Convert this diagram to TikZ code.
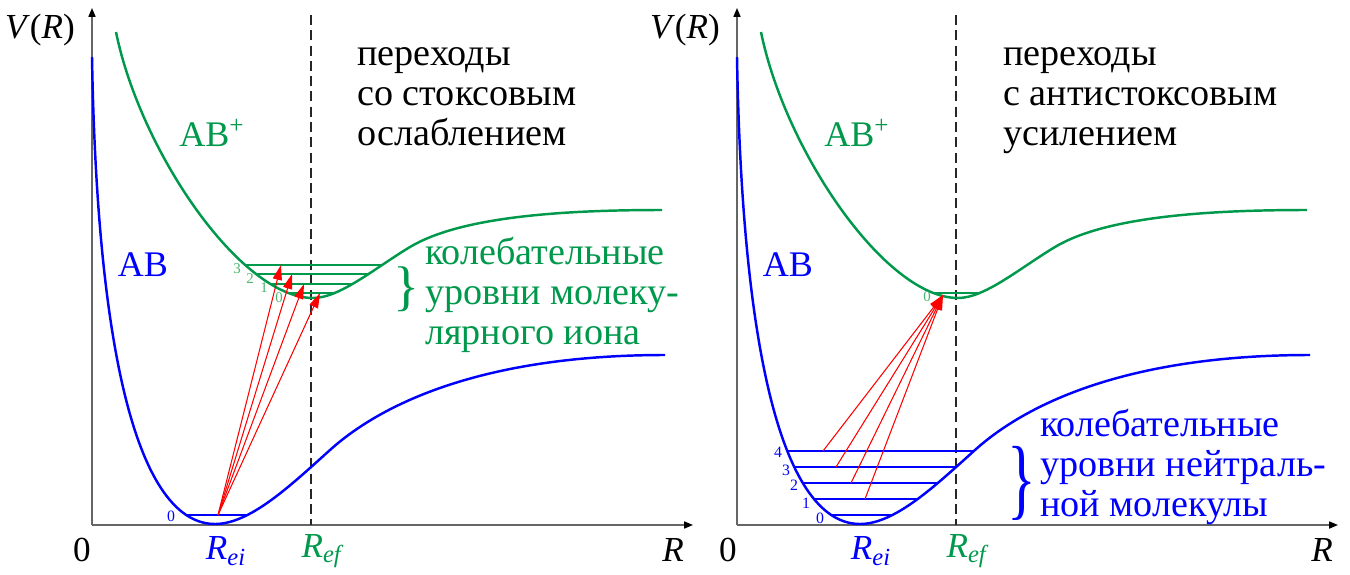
\documentclass[tikz,border=0pt]{standalone}
\usepackage{fontspec}
\setmainfont{Liberation Serif}
\usetikzlibrary{arrows.meta}
\definecolor{molBlue}{HTML}{0000FF}
\definecolor{ionGreen}{HTML}{00994C}
\definecolor{ionLight}{HTML}{4CB36E}
\definecolor{axisGray}{HTML}{666666}

\begin{document}
\begin{tikzpicture}[x=0.02cm, y=-0.02cm,
    axis/.style={draw=axisGray, line width=0.8pt,
                 -{Triangle[length=5pt, width=4pt, color=black]}},
    refline/.style={draw=black!85, dash pattern=on 5.7pt off 3pt, line width=0.6pt},
    molcurve/.style={draw=molBlue, line width=1.4pt},
    ioncurve/.style={draw=ionGreen, line width=1.4pt},
    mollevel/.style={draw=molBlue, line width=0.8pt},
    ionlevel/.style={draw=ionGreen, line width=0.8pt},
    trans/.style={draw=red, line width=0.6pt, -{Triangle[length=8.5pt, width=5.2pt]}},
    axlabel/.style={font=\fontsize{20}{22}\selectfont, inner sep=0pt},
    curvelabel/.style={font=\fontsize{20.5}{22}\selectfont, inner sep=0pt},
    bigtext/.style={font=\fontsize{21.7}{22.7}\selectfont, inner sep=0pt, align=left, anchor=base west},
    ionnum/.style={text=ionLight, font=\fontsize{8.5}{9}\selectfont, inner sep=0pt},
    molnum/.style={text=molBlue, font=\fontsize{9}{9}\selectfont, inner sep=0pt},
  ]
  \useasboundingbox (0,0) rectangle (1350,575);

  % left panel: Stokes transitions
  \begin{scope}
    \draw[axis] (92,525) -- (92,8);
    \draw[axis] (92,525) -- (693,525);
    \draw[refline] (311,15) -- (311,525);
    \draw[molcurve] (92,57) .. controls (98,400) and (150,524) .. (215,524)
      .. controls (250,524) and (290,486) .. (330,450)
      .. controls (380,405) and (480,355) .. (665,355);
    \draw[ioncurve] (116,32) .. controls (140,150) and (240,298) .. (313,298)
      .. controls (340,298) and (375,268) .. (410,247)
      .. controls (460,217) and (560,210) .. (662,210);
    \draw[ionlevel] (245,265) -- (382,265);
    \draw[ionlevel] (256,274) -- (368,274);
    \draw[ionlevel] (271,284) -- (353,284);
    \draw[ionlevel] (290,293) -- (334,293);
    \draw[mollevel] (186,515) -- (248,515);
    \coordinate (ls) at (218,515);
    \coordinate (lt3) at (281,265);
    \coordinate (lt2) at (292,274);
    \coordinate (lt1) at (304,284);
    \coordinate (lt0) at (320,293);
    \draw[trans] (ls) -- (lt3);
    \draw[trans] (ls) -- (lt2);
    \draw[trans] (ls) -- (lt1);
    \draw[trans] (ls) -- (lt0);
    \node[ionnum] (ln3) at (237,269) {3};
    \node[ionnum] (ln2) at (250,279) {2};
    \node[ionnum] (ln1) at (264,288) {1};
    \node[ionnum] (ln0) at (279,298) {0};
    \node[molnum] (lm0) at (171,516) {0};
  \end{scope}
  \node[axlabel] (vl) at (40,30) {\textit{V}(\textit{R})};
  \node[axlabel] (zl) at (82,550) {0};
  \node[axlabel] (rl) at (673,550) {\textit{R}};
  \node[axlabel, text=molBlue] (reil) at (226,551) {\textit{R}\textsubscript{\textit{ei}}};
  \node[axlabel, text=ionGreen] (refl) at (323,551) {\textit{R}\textsubscript{\textit{ef}}};
  \node[curvelabel, text=ionGreen] (ionl) at (212,133) {AB\textsuperscript{+}};
  \node[curvelabel, text=molBlue] (moll) at (143,265) {AB};
  \node[bigtext] (titl) at (357,145) {переходы\\со стоксовым\\ослаблением};
  \node[bigtext, text=ionGreen] (levl) at (425,344) {колебательные\\уровни молеку-\\лярного иона};
  \node[text=ionGreen, font=\fontsize{31}{31}\selectfont, inner sep=0pt] (bracel) at (407,289) {\}};

  % right panel: anti-Stokes transitions
  \begin{scope}[shift={(645,0)}]
    \draw[axis] (92,525) -- (92,8);
    \draw[axis] (92,525) -- (693,525);
    \draw[refline] (311,15) -- (311,525);
    \draw[molcurve] (92,57) .. controls (98,400) and (150,524) .. (215,524)
      .. controls (250,524) and (290,486) .. (330,450)
      .. controls (380,405) and (480,355) .. (665,355);
    \draw[ioncurve] (116,32) .. controls (140,150) and (240,298) .. (313,298)
      .. controls (340,298) and (375,268) .. (410,247)
      .. controls (460,217) and (560,210) .. (662,210);
    \draw[ionlevel] (290,293) -- (334,293);
    \draw[mollevel] (142,451) -- (329,451);
    \draw[mollevel] (150,467) -- (311,467);
    \draw[mollevel] (158,483) -- (293,483);
    \draw[mollevel] (170,499) -- (274,499);
    \draw[mollevel] (186,515) -- (248,515);
    \coordinate (rt) at (298,295);
    \coordinate (rs4) at (178,451);
    \coordinate (rs3) at (191,467);
    \coordinate (rs2) at (206,483);
    \coordinate (rs1) at (220,499);
    \draw[trans] (rs4) -- (rt);
    \draw[trans] (rs3) -- (rt);
    \draw[trans] (rs2) -- (rt);
    \draw[trans] (rs1) -- (rt);
    \node[ionnum] (rn0) at (282,297) {0};
    \node[molnum] (rm4) at (133,452) {4};
    \node[molnum] (rm3) at (141,470) {3};
    \node[molnum] (rm2) at (149,485) {2};
    \node[molnum] (rm1) at (161,503) {1};
    \node[molnum] (rm0) at (175,518) {0};
  \end{scope}
  \node[axlabel] (vr) at (685,30) {\textit{V}(\textit{R})};
  \node[axlabel] (zr) at (728,550) {0};
  \node[axlabel] (rr) at (1322,550) {\textit{R}};
  \node[axlabel, text=molBlue] (reir) at (871,551) {\textit{R}\textsubscript{\textit{ei}}};
  \node[axlabel, text=ionGreen] (refr) at (968,551) {\textit{R}\textsubscript{\textit{ef}}};
  \node[curvelabel, text=ionGreen] (ionr) at (857,133) {AB\textsuperscript{+}};
  \node[curvelabel, text=molBlue] (molr) at (788,265) {AB};
  \node[bigtext] (titr) at (1003,145) {переходы\\с антистоксовым\\усилением};
  \node[bigtext, text=molBlue] (levr) at (1040,516) {колебательные\\уровни нейтраль-\\ной молекулы};
  \node[text=molBlue, font=\fontsize{34}{34}\selectfont, inner sep=0pt] (bracer) at (1022,483) {\scalebox{1}[1.5]{\}}};
\end{tikzpicture}
\end{document}
